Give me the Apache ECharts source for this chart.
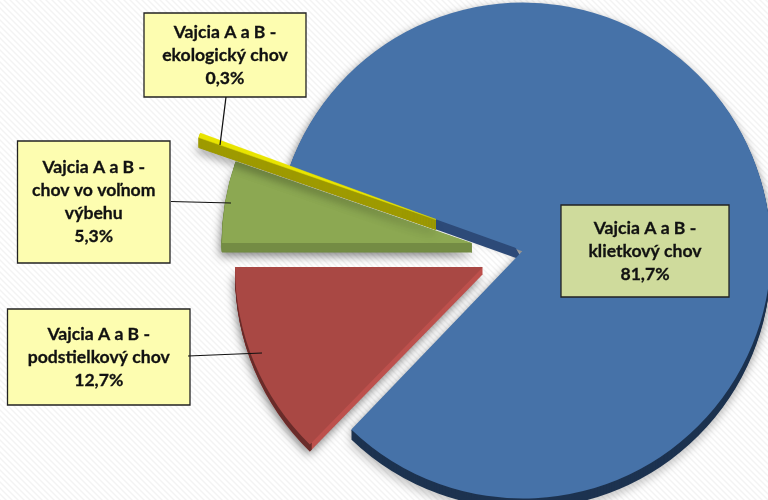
<!DOCTYPE html>
<html>
<head>
<meta charset="utf-8">
<style>html,body{margin:0;padding:0;background:#fff}#c{width:768px;height:500px}</style>
<script src="https://cdn.jsdelivr.net/npm/echarts@6/dist/echarts.min.js"></script>
</head>
<body>
<div id="c"></div>
<script>
const categories = ["klietkový chov", "podstielkový chov", "chov vo voľnom výbehu", "ekologický chov"];
const values = [81.7, 12.7, 5.3, 0.3];
const labelPrefix = "Vajcia A a B -";
const labelLines = [
  ["klietkový chov"],
  ["podstielkový chov"],
  ["chov vo voľnom", "výbehu"],
  ["ekologický chov"]
];
// clockwise-from-top angle at which each exploded slice starts
const sliceStarts = [289.7, 224.28, 270, 289.05];
const sliceCenters = [[523, 250.5], [483, 267], [472, 243], [436, 219.5]];
const sliceRadii = [248, 248, 250, 251];
const sliceDepths = [10, 7, 9, 10];
const topColors = ["#4672A8", "#A94844", "#8CA852", "#E9E400"];
const wallColors = ["#1D3350", "#6A2C2A", "#748C45", "#9E9A00"];
const stripColors = ["#2D4A78", "#BD504C", null, null];
const boxes = [[561, 205, 168, 92], [7.5, 309, 182.5, 96], [17.5, 141, 152.5, 122], [144, 13, 162, 84]];
const boxFills = ["#CFDB9C", "#FDFDB0", "#FDFDB0", "#FDFDB0"];
const leaders = [null, [188, 356, 262, 353], [171, 201.5, 231, 203], [226, 97, 220, 145]];

const total = values.reduce((a, b) => a + b, 0);
const series = [];
let zc = 1;
function wedge(i, cwStart, sweep, dy, radius, color, extra) {
  const start = 90 - cwStart;
  series.push({
    type: 'pie', silent: true, animation: false, z: zc++,
    center: [sliceCenters[i][0], sliceCenters[i][1] + dy],
    radius: radius,
    startAngle: start, endAngle: start - sweep,
    label: { show: false }, labelLine: { show: false },
    emphasis: { disabled: true },
    data: [{ name: categories[i], value: values[i] }],
    itemStyle: Object.assign({ color: color, borderWidth: 0 }, extra || {})
  });
}
const shadow = { shadowBlur: 10, shadowColor: 'rgba(0,0,0,0.5)', shadowOffsetY: 3, shadowOffsetX: -1 };
[0, 1, 2, 3].forEach(function (i) {
  const sweep = values[i] / total * 360;
  const R = sliceRadii[i], d = sliceDepths[i], st = sliceStarts[i];
  const solid = { borderColor: wallColors[i], borderWidth: 1 };
  if (i === 0) {
    wedge(i, st, sweep, 1, R, topColors[i], shadow);
    wedge(i, st, sweep, d, [R - 3, R], wallColors[i], shadow);
    for (let k = d - 1; k >= 1; k--) wedge(i, st, sweep, k, [R - 3, R], wallColors[i]);
    wedge(i, st, 40, d, 130, stripColors[i]);
  } else if (i === 1) {
    wedge(i, st, sweep, d, R, stripColors[i], shadow);
    for (let k = d - 1; k >= 1; k--) wedge(i, st, sweep, k, R, stripColors[i]);
    for (let k = d; k >= 1; k--) wedge(i, st, sweep, k, [R - 3, R], wallColors[i]);
  } else {
    wedge(i, st, sweep, d, R, wallColors[i], Object.assign({}, shadow, solid));
    for (let k = d - 1; k >= 1; k--) wedge(i, st, sweep, k, R, wallColors[i], solid);
  }
  wedge(i, st, sweep, 0, R, topColors[i], i === 3 ? { borderColor: topColors[i], borderWidth: 0.5 } : null);
});

// faint diagonal hatch of the slide background
const tile = document.createElement('canvas');
tile.width = tile.height = 6;
const g = tile.getContext('2d');
g.fillStyle = '#ffffff'; g.fillRect(0, 0, 6, 6);
g.strokeStyle = '#f3f3f3'; g.lineWidth = 1.4;
g.beginPath();
g.moveTo(-1, 1); g.lineTo(5, 7);
g.moveTo(2, -2); g.lineTo(8, 4);
g.stroke();

const graphics = [];
leaders.forEach(function (l) {
  if (!l) return;
  graphics.push({
    type: 'line', z: 200, silent: true,
    shape: { x1: l[0], y1: l[1], x2: l[2], y2: l[3] },
    style: { stroke: '#111', lineWidth: 1.2 }
  });
});
boxes.forEach(function (b, i) {
  graphics.push({
    type: 'rect', z: 190, silent: true,
    shape: { x: b[0], y: b[1], width: b[2], height: b[3] },
    style: { fill: boxFills[i], stroke: '#222', lineWidth: 1.3 }
  });
  const text = [labelPrefix].concat(labelLines[i], [String(values[i]).replace('.', ',') + '%']).join('\n');
  graphics.push({
    type: 'text', z: 210, silent: true,
    x: b[0] + b[2] / 2, y: b[1] + b[3] / 2,
    style: {
      text: text, align: 'center', verticalAlign: 'middle',
      font: 'bold 17.6px Lato', lineHeight: 23, fill: '#111',
      stroke: '#111', lineWidth: 0.3
    }
  });
});

const chart = echarts.init(document.getElementById('c'), null, { renderer: 'canvas' });
chart.setOption({
  animation: false,
  backgroundColor: { image: tile, repeat: 'repeat' },
  series: series,
  graphic: { elements: graphics }
});
</script>
</body>
</html>
